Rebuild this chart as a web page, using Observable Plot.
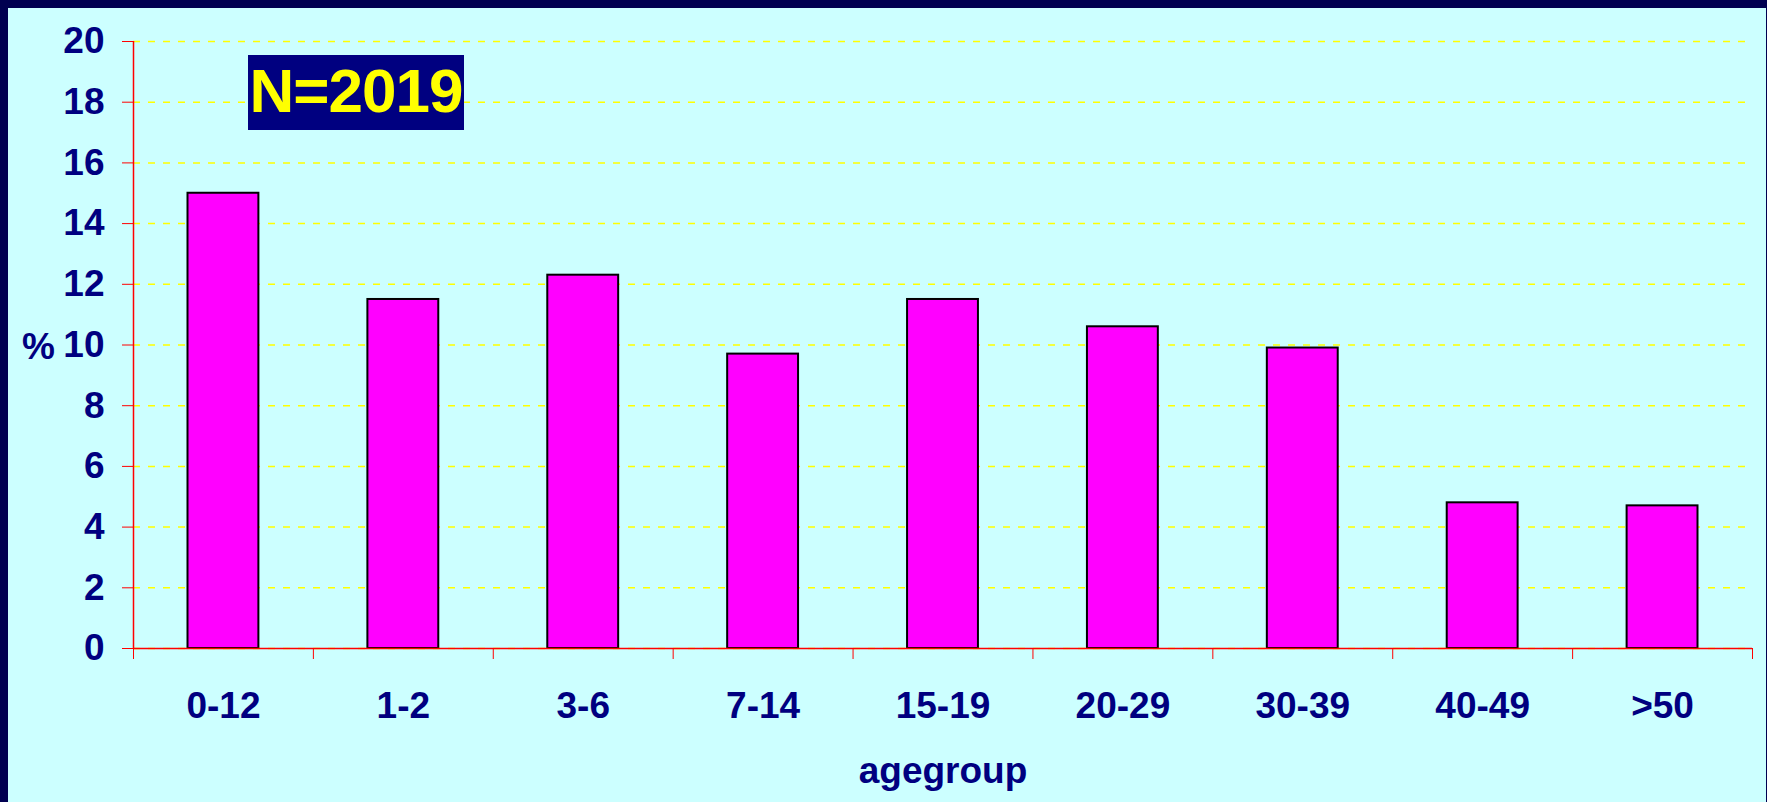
<!DOCTYPE html>
<html>
<head>
<meta charset="utf-8">
<script src="https://cdn.jsdelivr.net/npm/d3@7"></script>
<script src="https://cdn.jsdelivr.net/npm/@observablehq/plot@0.6"></script>
<style>
  html, body { margin: 0; padding: 0; background: #000050; overflow: hidden; }
  #panel { position: absolute; left: 8px; top: 8px; width: 1758px; height: 794px; background: #ccffff; }
  #panel svg { position: absolute; left: 0; top: 0; }
  #count {
    position: absolute; left: 240px; top: 47px; width: 216px; height: 75px; z-index: 1;
    background: #000080; color: #ffff00; text-align: center; line-height: 77px;
    font: bold 62px "Liberation Sans", Arial, sans-serif; letter-spacing: -1px;
  }
</style>
</head>
<body>
<div id="panel"><div id="count">N=2019</div></div>
<script>
// Share of cases per age group (%)
const ageGroups = ["0-12", "1-2", "3-6", "7-14", "15-19", "20-29", "30-39", "40-49", ">50"];
const percents = [15.0, 11.5, 12.3, 9.7, 11.5, 10.6, 9.9, 4.8, 4.7];
const yTicks = [0, 2, 4, 6, 8, 10, 12, 14, 16, 18, 20];

const navy = "#000080";
const red = "#ff0000";

// Each group occupies one unit on a linear x scale; ticks sit on the unit boundaries
const rows = ageGroups.map((group, i) => ({ group, pos: i, value: percents[i] }));
const boundaries = d3.range(ageGroups.length + 1);
const centers = ageGroups.map((_, i) => i + 0.5);

const chart = Plot.plot({
  width: 1758,
  height: 794,
  marginLeft: 125,
  marginRight: 14,
  marginTop: 33,
  marginBottom: 154,
  style: {
    background: "transparent",
    fontFamily: '"Liberation Sans", Arial, sans-serif',
    fontWeight: "bold",
    fontSize: "37px",
    color: navy,
    overflow: "visible"
  },
  x: { type: "linear", domain: [0, ageGroups.length] },
  y: { domain: [0, 20] },
  marks: [
    Plot.gridY(yTicks, { stroke: "#ffff00", strokeOpacity: 1, strokeWidth: 1.5, strokeDasharray: "7,8" }),
    Plot.rectY(rows, {
      x1: "pos",
      x2: d => d.pos + 1,
      y1: 0,
      y2: "value",
      fill: "#ff00ff",
      stroke: "#000000",
      strokeWidth: 2,
      insetLeft: 54.5,
      insetRight: 54.5
    }),
    Plot.ruleX([0], { y1: 0, y2: 20, stroke: red, strokeWidth: 1.5 }),
    Plot.ruleY([0], { stroke: red, strokeWidth: 1.5 }),
    Plot.axisY({
      ticks: yTicks,
      tickSize: 11,
      tickPadding: 18,
      stroke: red,
      fill: navy,
      label: null
    }),
    Plot.axisX({
      ticks: boundaries,
      tickSize: 11,
      stroke: red,
      fill: "none",
      tickFormat: () => "",
      label: null
    }),
    Plot.axisX({
      ticks: centers,
      tickSize: 0,
      tickPadding: 43,
      fill: navy,
      tickFormat: d => ageGroups[Math.floor(d)],
      label: null
    }),
    Plot.text(["%"], { frameAnchor: "left", dx: -95, dy: 2, fill: navy, textAnchor: "middle", lineAnchor: "middle" }),
    Plot.text(["agegroup"], { frameAnchor: "bottom", dy: 123, fill: navy, textAnchor: "middle", lineAnchor: "middle" })
  ]
});

document.getElementById("panel").appendChild(chart);
</script>
</body>
</html>
